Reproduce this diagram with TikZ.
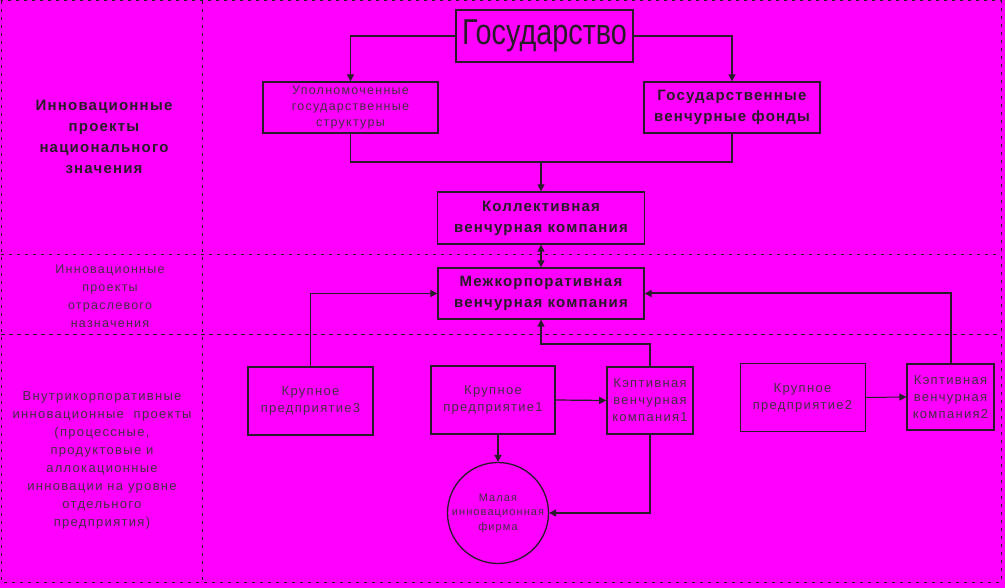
\documentclass[tikz,border=0pt]{standalone}
\usepackage{fontspec}
\setmainfont{Liberation Sans}
\newfontfamily\gosfont{Liberation Sans}[FakeStretch=0.8]
\newfontfamily\boldlbl{Liberation Sans}[LetterSpace=8]
\newfontfamily\smalllbl{Liberation Sans}[LetterSpace=10]
\usetikzlibrary{arrows.meta}
\definecolor{bg}{RGB}{255,0,255}
\definecolor{ink}{RGB}{40,28,40}
\definecolor{faint}{RGB}{70,45,70}

\begin{document}
\begin{tikzpicture}[x=1pt,y=-1pt,line width=1.2pt,draw=ink,
		box/.style={draw=ink,line width=1.3pt,inner sep=0pt,align=center},
		bigtxt/.style={text=ink,font=\boldlbl\bfseries\fontsize{15}{21}\selectfont},
		smalltxt/.style={text=faint,font=\smalllbl\fontsize{13}{17}\selectfont},
		arr/.style={-{Triangle[length=7pt,width=7pt]}},
		sep/.style={ink,line width=1pt,dash pattern=on 3pt off 5pt}
	]
	\fill[bg] (0,0) rectangle (1005,588);
	% frame of the table
	\draw[sep] (1,1) rectangle (1001,582);
	\draw[sep] (202,1)--(202,582);
	\draw[sep] (1,255)--(1001,255);
	\draw[sep,dash pattern=on 4pt off 4pt] (1,335)--(1001,335);
	% row labels
	\node[bigtxt,align=center] (natl) at (104,137) {Инновационные\\проекты\\национального\\значения};
	\node[smalltxt,align=center,font=\smalllbl\fontsize{12.5}{18}\selectfont] (otrasl) at (110,296) {Инновационные\\проекты\\отраслевого\\назначения};
	\node[smalltxt,align=center,font=\smalllbl\fontsize{13}{18}\selectfont] (vnutr) at (102,460) {Внутрикорпоративные\\инновационные\ \ проекты\\(процессные,\\продуктовые и\\аллокационные\\инновации на уровне\\отдельного\\предприятия)};
	% boxes
	\node[box,text=ink,font=\gosfont\fontsize{36}{40}\selectfont,minimum width=177pt,minimum height=52pt] (gos) at (544.5,36) {Государство};
	\node[box,smalltxt,minimum width=175pt,minimum height=51pt,font=\smalllbl\fontsize{12.5}{16}\selectfont] (upol) at (350.5,107.5) {Уполномоченные\\государственные\\структуры};
	\node[box,bigtxt,minimum width=176pt,minimum height=51pt] (gvf) at (732,107.5) {Государственные\\венчурные фонды};
	\node[box,bigtxt,minimum width=207pt,minimum height=52pt] (kol) at (541,218) {Коллективная\\венчурная компания};
	\node[box,bigtxt,minimum width=206pt,minimum height=51pt] (mezh) at (541,293.5) {Межкорпоративная\\венчурная компания};
	\node[box,smalltxt,minimum width=125pt,minimum height=68pt] (kr3) at (310.5,401) {Крупное\\предприятие3};
	\node[box,smalltxt,line width=1.8pt,minimum width=124pt,minimum height=68pt] (kr1) at (493,400) {Крупное\\предприятие1};
	\node[box,smalltxt,line width=1.6pt,minimum width=86pt,minimum height=67pt] (kap1) at (650,400.5) {Кэптивная\\венчурная\\компания1};
	\node[box,smalltxt,line width=1pt,minimum width=125pt,minimum height=67pt] (kr2) at (802.5,397.5) {Крупное\\предприятие2};
	\node[box,smalltxt,minimum width=87pt,minimum height=66pt] (kap2) at (950.5,397) {Кэптивная\\венчурная\\компания2};
	\node[draw=ink,circle,line width=1.3pt,minimum size=101pt,inner sep=0pt,smalltxt,font=\smalllbl\fontsize{11}{14.5}\selectfont,align=center] (mal) at (498,513) {Малая\\инновационная\\фирма};
	% connectors
	\coordinate (join) at (541,162);
	\draw[arr] (gos.west) -| (upol.north);
	\draw[arr] (gos.east) -| (gvf.north);
	\draw (upol.south) |- (join);
	\draw (gvf.south) |- (join);
	\draw[arr] (join) -- (kol.north);
	\draw[{Triangle[length=7pt,width=7pt]}-{Triangle[length=7pt,width=7pt]}] (kol.south) -- (mezh.north);
	\draw[arr] (kr3.north) |- (mezh.west);
	\draw[arr,line width=2pt] (kap2.north) |- (mezh.east);
	\draw[arr,line width=1pt] (kr2.east) -- (kap2.west);
	\draw[arr] (kr1.east) -- (kap1.west);
	\draw[arr,line width=1.6pt] (kap1.north) -- ++(0,-22) -| (mezh.south);
	\draw[arr] (kap1.south) |- (mal.east);
	\draw[arr,line width=1.8pt] (kr1.south -| mal.north) -- (mal.north);
\end{tikzpicture}
\end{document}
